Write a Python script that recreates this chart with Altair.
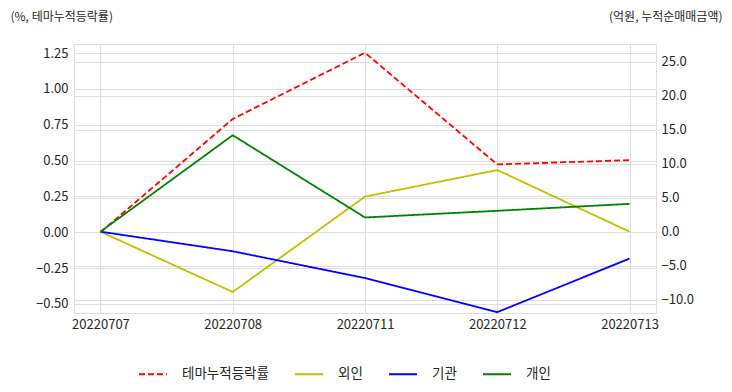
import altair as alt
import pandas as pd

dates = ["20220707", "20220708", "20220711", "20220712", "20220713"]
theme = [0.0, 0.79, 1.252, 0.473, 0.503]
foreign = [0.0, -8.87, 5.16, 9.06, 0.0]
inst = [0.0, -2.88, -6.82, -11.84, -3.95]
indiv = [0.0, 14.18, 2.09, 3.07, 4.09]

series_names = ["테마누적등락률", "외인", "기관", "개인"]
colors = ["#ff0000", "#bfbf00", "#0000ff", "#008000"]
dashes = [[6, 3], [1, 0], [1, 0], [1, 0]]

left_ticks = [-0.5, -0.25, 0.0, 0.25, 0.5, 0.75, 1.0, 1.25]
right_ticks = [-10, -5, 0, 5, 10, 15, 20, 25]

df_left = pd.DataFrame({"date": dates, "value": theme, "series": series_names[0]})
df_right = pd.concat([
    pd.DataFrame({"date": dates, "value": foreign, "series": series_names[1]}),
    pd.DataFrame({"date": dates, "value": inst, "series": series_names[2]}),
    pd.DataFrame({"date": dates, "value": indiv, "series": series_names[3]}),
])

FONT = "Noto Sans CJK KR"
TXT = "#262626"
GRID = "#cccccc"

legend = alt.Legend(
    title=None, orient="none", legendX=64, legendY=315, direction="horizontal",
    symbolType="stroke", symbolSize=784, symbolStrokeWidth=2, labelFontSize=13.5,
    labelFont=FONT, labelColor=TXT, labelOffset=14, columnPadding=22, padding=0,
)
color = alt.Color("series:N", scale=alt.Scale(domain=series_names, range=colors), legend=legend)
dash = alt.StrokeDash("series:N", scale=alt.Scale(domain=series_names, range=dashes), legend=legend)

x = alt.X(
    "date:N", sort=dates, scale=alt.Scale(type="point", padding=0.2),
    axis=alt.Axis(title=None, labelAngle=0, grid=True, ticks=False, domain=False,
                  labelPadding=5, labelFontSize=13, labelColor=TXT, labelFont=FONT),
)

left = alt.Chart(df_left).mark_line(strokeWidth=1.8).encode(
    x=x,
    y=alt.Y("value:Q", scale=alt.Scale(domain=[-0.563, 1.313], nice=False, zero=False),
            axis=alt.Axis(orient="left", values=left_ticks, format=".2f", grid=True,
                          ticks=False, domain=False, labelPadding=6, labelFontSize=13,
                          labelColor=TXT, labelFont=FONT,
                          title="(%, 테마누적등락률)", titleAngle=0, titleAlign="left",
                          titleBaseline="middle", titleX=-64, titleY=-28,
                          titleFontSize=12, titleFontWeight="normal", titleColor=TXT,
                          titleFont=FONT)),
    color=color,
    strokeDash=dash,
)

right = alt.Chart(df_right).mark_line(strokeWidth=1.8).encode(
    x=x,
    y=alt.Y("value:Q", scale=alt.Scale(domain=[-11.96, 27.6], nice=False, zero=False),
            axis=alt.Axis(orient="right", values=right_ticks, format=".1f", grid=True,
                          ticks=False, domain=False, labelPadding=5, labelFontSize=13,
                          labelColor=TXT, labelFont=FONT,
                          title="(억원, 누적순매매금액)", titleAngle=0, titleAlign="right",
                          titleBaseline="middle", titleX=66, titleY=-28,
                          titleFontSize=12, titleFontWeight="normal", titleColor=TXT,
                          titleFont=FONT)),
    color=color,
    strokeDash=dash,
    detail="series:N",
)

chart = alt.layer(left, right).resolve_scale(y="independent").properties(
    width=582, height=269,
    autosize=alt.AutoSizeParams(type="none"),
    padding={"left": 66, "top": 36, "right": 68, "bottom": 71},
).configure_view(stroke=GRID, strokeWidth=1.25).configure_axis(
    gridColor=GRID, gridWidth=1
).configure(font=FONT, background="white")

chart.save("out.html", embed_options={"renderer": "svg", "actions": False})
